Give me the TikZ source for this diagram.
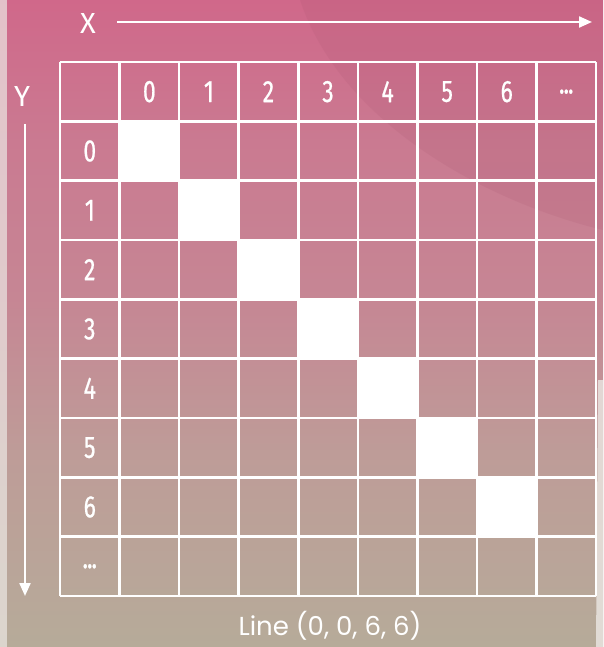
\documentclass[tikz,border=0pt]{standalone}
\usepackage{fontspec}
\setmainfont{Fira Sans}
\newfontfamily\gridfont[FakeStretch=0.74, FakeBold=0.6]{Fira Sans}
\newfontfamily\capfont{Poppins}
\usetikzlibrary{arrows.meta}
\definecolor{bgtop}{RGB}{208,104,138}
\definecolor{bgup}{RGB}{202,122,145}
\definecolor{bgmid}{RGB}{198,134,148}
\definecolor{bglow}{RGB}{190,156,152}
\definecolor{bgbot}{RGB}{182,171,153}
\definecolor{edge}{RGB}{236,232,228}
\pgfdeclareverticalshading{paper}{100bp}{color(0bp)=(bgbot); color(25bp)=(bgbot); color(40bp)=(bglow); color(52bp)=(bgmid); color(64bp)=(bgup); color(75bp)=(bgtop); color(100bp)=(bgtop)}
\tikzset{
  gridline/.style={draw=white, line width=2.6pt},
  hdr/.style={text=white, font=\gridfont\fontsize{31}{31}\selectfont, inner sep=0pt},
  axislbl/.style={text=white, font=\fontsize{29}{29}\selectfont, inner sep=0pt},
  axisarrow/.style={draw=white, line width=2.2pt, -{Triangle[length=13pt,width=11pt]}},
  hit/.style={fill=white, draw=none},
  caption/.style={text=white, font=\capfont\fontsize{26}{26}\selectfont, inner sep=0pt}
}
\begin{document}
\begin{tikzpicture}[x=1pt,y=-1pt]
\useasboundingbox (0,0) rectangle (603,647);
% background
\shade[shading=paper] (0,0) rectangle (603,647);
\fill[bgtop!80!black, opacity=0.15] (300,0) .. controls (340,120) and (480,200) .. (603,230) -- (603,0) -- cycle;
\fill[edge, opacity=0.7] (0,0) rectangle (7,647);
\fill[edge, opacity=0.8] (598,380) -- (603,380) -- (603,647) -- (596,647) -- cycle;
% white diagonal cells
\foreach \i in {0,1,2,3,4,5,6}{
  \fill[hit] ({60+(\i+1)*59.56},{62+(\i+1)*59.33}) rectangle ++(59.56,59.33);
}
% grid
\foreach \k in {0,1,2,3,4,5,6,7,8,9}{
  \draw[gridline] ({60+\k*59.56},62) -- ({60+\k*59.56},596);
  \draw[gridline] (60,{62+\k*59.33}) -- (596,{62+\k*59.33});
}
% headers
\foreach \c in {1,2,3,4,5,6,7}{
  \pgfmathtruncatemacro{\t}{\c-1}
  \node[hdr] (hx\c) at ({60+(\c+0.5)*59.56},{62+0.5*59.33}) {\t};
  \node[hdr] (hy\c) at ({60+0.5*59.56},{62+(\c+0.5)*59.33}) {\t};
}
\node[hdr] (hx8) at ({60+8.5*59.56},{62+0.5*59.33}) {.\kern-1pt.\kern-1pt.};
\node[hdr] (hy8) at ({60+0.5*59.56},{62+8.5*59.33}) {.\kern-1pt.\kern-1pt.};
% axes
\node[axislbl] (xl) at (88,24) {X};
\node[axislbl] (yl) at (22,97) {Y};
\coordinate (xs) at (117,22);
\coordinate (xe) at (592,22);
\coordinate (ys) at (25,124);
\coordinate (ye) at (25,596);
\draw[axisarrow] (xs) -- (xe);
\draw[axisarrow] (ys) -- (ye);
% caption
\node[caption, anchor=base] (cap) at (330,635) {Line (0, 0, 6, 6)};
\end{tikzpicture}
\end{document}
